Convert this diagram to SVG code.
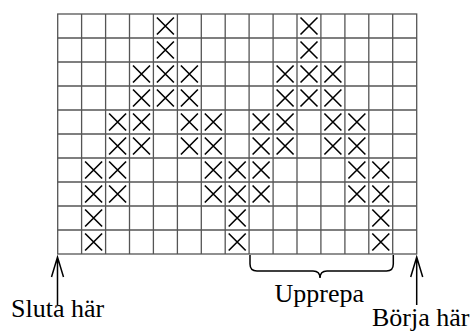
<svg xmlns="http://www.w3.org/2000/svg" xmlns:xlink="http://www.w3.org/1999/xlink" width="471" height="331" viewBox="0 0 471 331">
<style>
.grid{stroke:#555;stroke-width:1.3;fill:none}
.xm{stroke:#000;stroke-width:1.6;fill:none}
.ln{stroke:#000;stroke-width:1.5;fill:none}
.lbl{font-size:26px;fill:#000}
</style>
<defs>
<path id="x" class="xm" d="M3.5,3.5 L20.5,20.5 M20.5,3.5 L3.5,20.5"/>
</defs>
<rect width="471" height="331" fill="#fff"/>
<g id="grid" class="grid">
<rect x="57.7" y="14" width="359" height="240"/>
<path d="M81.6,14V254 M105.6,14V254 M129.5,14V254 M153.4,14V254 M177.4,14V254 M201.3,14V254 M225.2,14V254 M249.1,14V254 M273.1,14V254 M297,14V254 M320.9,14V254 M344.9,14V254 M368.8,14V254 M392.7,14V254"/>
<path d="M57.7,38H416.7 M57.7,62H416.7 M57.7,86H416.7 M57.7,110H416.7 M57.7,134H416.7 M57.7,158H416.7 M57.7,182H416.7 M57.7,206H416.7 M57.7,230H416.7"/>
</g>
<g id="marks">
<use xlink:href="#x" x="153.4" y="14"/><use xlink:href="#x" x="297" y="14"/>
<use xlink:href="#x" x="153.4" y="38"/><use xlink:href="#x" x="297" y="38"/>
<use xlink:href="#x" x="129.5" y="62"/><use xlink:href="#x" x="153.4" y="62"/><use xlink:href="#x" x="177.4" y="62"/>
<use xlink:href="#x" x="273.1" y="62"/><use xlink:href="#x" x="297" y="62"/><use xlink:href="#x" x="320.9" y="62"/>
<use xlink:href="#x" x="129.5" y="86"/><use xlink:href="#x" x="153.4" y="86"/><use xlink:href="#x" x="177.4" y="86"/>
<use xlink:href="#x" x="273.1" y="86"/><use xlink:href="#x" x="297" y="86"/><use xlink:href="#x" x="320.9" y="86"/>
<use xlink:href="#x" x="105.6" y="110"/><use xlink:href="#x" x="129.5" y="110"/><use xlink:href="#x" x="177.4" y="110"/><use xlink:href="#x" x="201.3" y="110"/>
<use xlink:href="#x" x="249.1" y="110"/><use xlink:href="#x" x="273.1" y="110"/><use xlink:href="#x" x="320.9" y="110"/><use xlink:href="#x" x="344.9" y="110"/>
<use xlink:href="#x" x="105.6" y="134"/><use xlink:href="#x" x="129.5" y="134"/><use xlink:href="#x" x="177.4" y="134"/><use xlink:href="#x" x="201.3" y="134"/>
<use xlink:href="#x" x="249.1" y="134"/><use xlink:href="#x" x="273.1" y="134"/><use xlink:href="#x" x="320.9" y="134"/><use xlink:href="#x" x="344.9" y="134"/>
<use xlink:href="#x" x="81.6" y="158"/><use xlink:href="#x" x="105.6" y="158"/><use xlink:href="#x" x="201.3" y="158"/><use xlink:href="#x" x="225.2" y="158"/><use xlink:href="#x" x="249.1" y="158"/><use xlink:href="#x" x="344.9" y="158"/><use xlink:href="#x" x="368.8" y="158"/>
<use xlink:href="#x" x="81.6" y="182"/><use xlink:href="#x" x="105.6" y="182"/><use xlink:href="#x" x="201.3" y="182"/><use xlink:href="#x" x="225.2" y="182"/><use xlink:href="#x" x="249.1" y="182"/><use xlink:href="#x" x="344.9" y="182"/><use xlink:href="#x" x="368.8" y="182"/>
<use xlink:href="#x" x="81.6" y="206"/><use xlink:href="#x" x="225.2" y="206"/><use xlink:href="#x" x="368.8" y="206"/>
<use xlink:href="#x" x="81.6" y="230"/><use xlink:href="#x" x="225.2" y="230"/><use xlink:href="#x" x="368.8" y="230"/>
</g>
<g id="connectors" class="ln">
<path d="M57.5,257V305 M51.5,277L57.5,257L63.5,277"/>
<path d="M416.7,257V305 M410.7,277L416.7,257L422.7,277"/>
<path d="M250,255V264Q250,271 257,271H313Q320,271 320,278Q320,271 327,271H386.5Q393.3,271 393.3,264V255"/>
</g>
<g id="labels" font-family="'Liberation Serif','DejaVu Serif',serif">
<text class="lbl" x="11" y="317">Sluta här</text>
<text class="lbl" x="274.5" y="301.5">Upprepa</text>
<text class="lbl" x="372" y="325.5">Börja här</text>
</g>
</svg>
